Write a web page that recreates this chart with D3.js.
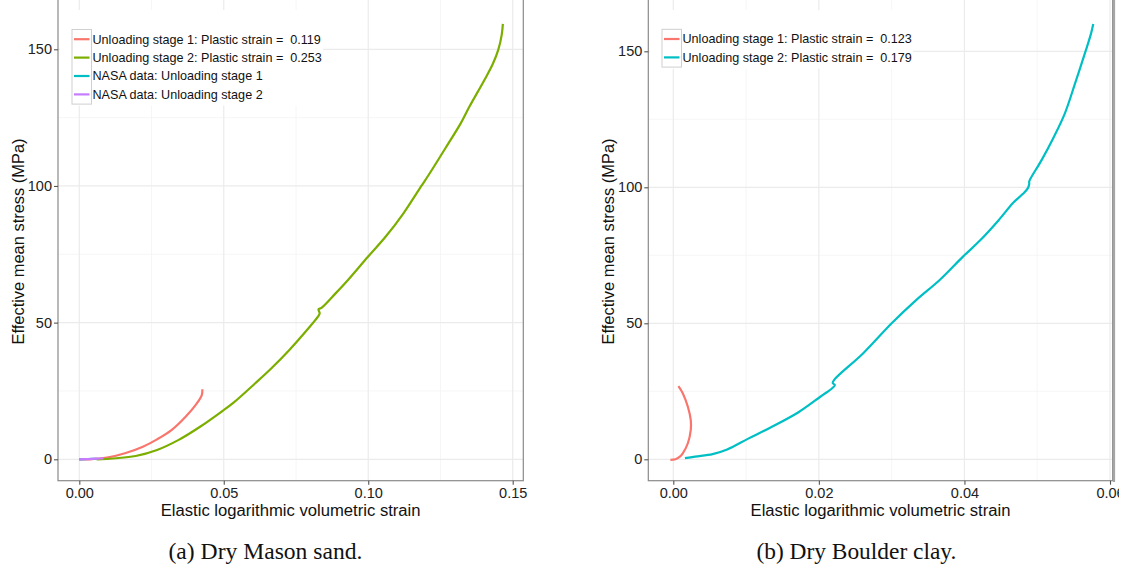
<!DOCTYPE html>
<html>
<head>
<meta charset="utf-8">
<script src="https://cdn.jsdelivr.net/npm/d3@7"></script>
<style>
  html, body { margin: 0; padding: 0; background: #fff; }
  svg { display: block; }
</style>
</head>
<body>
<svg id="chart" width="1130" height="574"></svg>
<script>
// ---------- DATA ----------
// Panel (a) Dry Mason sand: [elastic log volumetric strain, effective mean stress MPa]
const masonStage1 = [
  [0.0000, 0.0], [0.0035, 0.0], [0.0096, 0.6], [0.0158, 2.2], [0.0220, 4.6],
  [0.0269, 7.3], [0.0319, 10.7], [0.0368, 15.6], [0.0405, 20.2], [0.0424, 23.5], [0.0426, 25.6]
];
const masonStage2 = [
  [0.0060, 0.0], [0.0096, 0.1], [0.0195, 1.2], [0.0269, 3.4], [0.0344, 7.1],
  [0.0418, 11.9], [0.0492, 17.4], [0.0535, 20.8], [0.0609, 27.8], [0.0665, 33.3],
  [0.0727, 40.0], [0.0788, 47.3], [0.0826, 52.2], [0.0832, 53.4], [0.0828, 54.9],
  [0.0838, 55.4], [0.0887, 60.7], [0.0930, 65.6], [0.0999, 74.1], [0.1060, 81.4],
  [0.1122, 90.0], [0.1184, 100.0], [0.1209, 104.0], [0.1270, 114.3], [0.1320, 122.9],
  [0.1350, 129.0], [0.1380, 134.6], [0.1406, 139.5], [0.1431, 144.6], [0.1450, 149.8],
  [0.1462, 155.3], [0.1466, 159.3]
];
const nasaStage1 = [
  [0.0000, 0.0], [0.0030, 0.1], [0.0060, 0.2]
];
const nasaStage2 = [
  [0.0000, 0.0], [0.0020, 0.05], [0.0045, 0.15], [0.0065, 0.25], [0.0083, 0.35]
];
// Panel (b) Dry Boulder clay
const clayStage1 = [
  [-0.0004, -0.2], [0.0003, 0.0], [0.0009, 1.0], [0.0013, 2.2], [0.0020, 5.9],
  [0.0024, 10.8], [0.0024, 14.4], [0.0020, 19.3], [0.0013, 24.3], [0.0007, 26.9]
];
const clayStage2 = [
  [0.0016, 0.4], [0.0030, 1.0], [0.0054, 1.9], [0.0074, 3.6], [0.0103, 7.6],
  [0.0133, 11.6], [0.0172, 17.3], [0.0202, 23.0], [0.0219, 26.3], [0.0222, 27.3],
  [0.0219, 28.0], [0.0221, 29.2], [0.0261, 39.0], [0.0300, 50.0], [0.0334, 58.6],
  [0.0366, 65.9], [0.0398, 74.5], [0.0422, 80.6], [0.0447, 87.9], [0.0467, 94.3],
  [0.0480, 97.5], [0.0487, 99.6], [0.0489, 101.2], [0.0489, 102.1], [0.0491, 103.3],
  [0.0506, 110.0], [0.0523, 118.6], [0.0538, 127.2], [0.0552, 138.2], [0.0567, 150.5],
  [0.0574, 156.6], [0.0577, 160.0]
];

const masonLegend = [
  "Unloading stage 1: Plastic strain =  0.119",
  "Unloading stage 2: Plastic strain =  0.253",
  "NASA data: Unloading stage 1",
  "NASA data: Unloading stage 2"
];
const clayLegend = [
  "Unloading stage 1: Plastic strain =  0.123",
  "Unloading stage 2: Plastic strain =  0.179"
];
const masonXTicks = [0, 0.05, 0.10, 0.15];
const masonXMinor = [0.025, 0.075, 0.125];
const clayXTicks = [0, 0.02, 0.04, 0.06];
const clayXMinor = [0.01, 0.03, 0.05];
const yTicks = [0, 50, 100, 150];
const yMinor = [25, 75, 125];
const captions = ["(a) Dry Mason sand.", "(b) Dry Boulder clay."];
const xTitle = "Elastic logarithmic volumetric strain";
const yTitle = "Effective mean stress (MPa)";

const colors4 = ["#F8766D", "#7CAE00", "#00BFC4", "#C77CFF"];
const colors2 = ["#F8766D", "#00BFC4"];

// ---------- DRAW ----------
const svg = d3.select("#chart");
const SANS = "'Liberation Sans', Arial, Helvetica, sans-serif";
const SERIF = "'Liberation Serif', 'Times New Roman', serif";

// scale a text's font size so that it spans the target width
function fitWidth(sel, target) {
  const node = sel.node();
  const fs = parseFloat(sel.style("font-size"));
  const w = node.getComputedTextLength();
  if (w > 0) sel.style("font-size", (fs * target / w).toFixed(2) + "px");
  return sel;
}

function panel(cfg) {
  const g = svg.append("g");
  const x = d3.scaleLinear().domain(cfg.xDomain).range([cfg.left, cfg.right]);
  const y = d3.scaleLinear().domain(cfg.yDomain).range([cfg.bottom, cfg.top]);

  g.append("rect").attr("x", cfg.left).attr("y", cfg.top)
    .attr("width", cfg.right - cfg.left).attr("height", cfg.bottom - cfg.top)
    .attr("fill", "#fff");

  // minor grid
  g.selectAll(".gxm").data(cfg.xMinor).enter().append("line")
    .attr("x1", d => x(d)).attr("x2", d => x(d)).attr("y1", cfg.top).attr("y2", cfg.bottom)
    .attr("stroke", "#f4f4f4").attr("stroke-width", 0.8);
  g.selectAll(".gym").data(yMinor).enter().append("line")
    .attr("y1", d => y(d)).attr("y2", d => y(d)).attr("x1", cfg.left).attr("x2", cfg.right)
    .attr("stroke", "#f4f4f4").attr("stroke-width", 0.8);
  // major grid
  g.selectAll(".gx").data(cfg.xTicks).enter().append("line")
    .attr("x1", d => x(d)).attr("x2", d => x(d)).attr("y1", cfg.top).attr("y2", cfg.bottom)
    .attr("stroke", "#ebebeb").attr("stroke-width", 1.2);
  g.selectAll(".gy").data(yTicks).enter().append("line")
    .attr("y1", d => y(d)).attr("y2", d => y(d)).attr("x1", cfg.left).attr("x2", cfg.right)
    .attr("stroke", "#ebebeb").attr("stroke-width", 1.2);

  const clipId = "clip" + cfg.id;
  svg.append("clipPath").attr("id", clipId).append("rect")
    .attr("x", cfg.left).attr("y", cfg.top)
    .attr("width", cfg.right - cfg.left).attr("height", cfg.bottom - cfg.top);

  const line = d3.line().x(d => x(d[0])).y(d => y(d[1])).curve(d3.curveCatmullRom.alpha(0.5));
  const lg = g.append("g").attr("clip-path", `url(#${clipId})`);
  cfg.series.forEach((s, i) => {
    lg.append("path").datum(s).attr("d", line)
      .attr("fill", "none").attr("stroke", cfg.colors[i])
      .attr("stroke-width", 2.2).attr("stroke-linejoin", "round").attr("stroke-linecap", "butt");
  });

  // border
  g.append("rect").attr("x", cfg.left).attr("y", cfg.top)
    .attr("width", cfg.right - cfg.left).attr("height", cfg.bottom - cfg.top)
    .attr("fill", "none").attr("stroke", "#8a8a8a").attr("stroke-width", 1.2);

  // axes
  const xAxis = d3.axisBottom(x).tickValues(cfg.xTicks).tickSize(4).tickPadding(3)
    .tickFormat(d3.format(".2f"));
  const xa = g.append("g").attr("transform", `translate(0,${cfg.bottom})`).call(xAxis);
  const yAxis = d3.axisLeft(y).tickValues(yTicks).tickSize(4).tickPadding(2)
    .tickFormat(d3.format("d"));
  const ya = g.append("g").attr("transform", `translate(${cfg.left},0)`).call(yAxis);
  [xa, ya].forEach(a => {
    a.select(".domain").remove();
    a.selectAll(".tick line").attr("stroke", "#555").attr("stroke-width", 1.1);
    a.selectAll(".tick text").attr("fill", "#222").style("font-family", SANS).style("font-size", "14.5px");
  });

  // axis titles
  const xt = g.append("text").attr("x", (cfg.left + cfg.right) / 2 + cfg.xTitleDx).attr("y", 515.5)
    .attr("text-anchor", "middle").style("font-family", SANS).style("font-size", "16px")
    .attr("fill", "#111").text(xTitle);
  fitWidth(xt, 260);
  const yt = g.append("text").attr("transform", `translate(${cfg.left - 34},241.5) rotate(-90)`)
    .attr("text-anchor", "middle").style("font-family", SANS).style("font-size", "16px")
    .attr("fill", "#111").text(yTitle);
  fitWidth(yt, 206);

  // legend
  const L = cfg.legend;
  const rowH = 18.4;
  const leg = g.append("g");
  leg.append("rect").attr("x", L.bgX).attr("y", L.bgY).attr("width", L.bgW)
    .attr("height", cfg.labels.length * rowH + 22).attr("fill", "#fff");
  leg.append("rect").attr("x", L.keyX).attr("y", L.rowY - rowH / 2 - 0.5).attr("width", 19.5)
    .attr("height", cfg.labels.length * rowH + 1).attr("fill", "#fff")
    .attr("stroke", "#cfcfcf").attr("stroke-width", 1);
  cfg.labels.forEach((t, i) => {
    const cy = L.rowY + i * rowH;
    leg.append("line").attr("x1", L.keyX + 2).attr("x2", L.keyX + 17.5)
      .attr("y1", cy).attr("y2", cy).attr("stroke", cfg.colors[i]).attr("stroke-width", 2.2);
    leg.append("text").attr("x", L.keyX + 20.5).attr("y", cy).attr("dy", "0.35em")
      .style("font-family", SANS).style("font-size", "12.6px").attr("fill", "#111")
      .style("white-space", "pre").attr("xml:space", "preserve").text(t);
  });

  // caption
  const cap = svg.append("text").attr("x", cfg.captionX).attr("y", 558.5).attr("text-anchor", "middle")
    .style("font-family", SERIF).style("font-size", "22px")
    .attr("fill", "#111").text(cfg.caption);
  fitWidth(cap, cfg.captionW);
}

panel({
  id: "a", left: 58, right: 523.3, top: -1, bottom: 480.7,
  xDomain: [-0.00737, 0.15367], yDomain: [-7.83, 168.40],
  xTicks: masonXTicks, xMinor: masonXMinor, xTitleDx: 0,
  series: [masonStage1, masonStage2, nasaStage1, nasaStage2], colors: colors4,
  labels: masonLegend,
  legend: { bgX: 60, bgY: 10, bgW: 263, keyX: 72, rowY: 39.2 },
  caption: captions[0], captionX: 265.5, captionW: 194
});
panel({
  id: "b", left: 648.3, right: 1112.7, top: -1, bottom: 480.7,
  xDomain: [-0.003435, 0.06037], yDomain: [-7.87, 169.23],
  xTicks: clayXTicks, xMinor: clayXMinor, xTitleDx: 0,
  series: [clayStage1, clayStage2], colors: colors2,
  labels: clayLegend,
  legend: { bgX: 650, bgY: 10, bgW: 263, keyX: 662, rowY: 39 },
  caption: captions[1], captionX: 856.4, captionW: 200
});

// right edge of panel (b): thicker edge and cropped margin as in the source image
svg.append("line").attr("x1", 1114).attr("x2", 1114).attr("y1", 0).attr("y2", 482)
  .attr("stroke", "#a5a5a5").attr("stroke-width", 2.2);
svg.append("rect").attr("x", 1119).attr("y", 482).attr("width", 11).attr("height", 30)
  .attr("fill", "#fff");
</script>
</body>
</html>
